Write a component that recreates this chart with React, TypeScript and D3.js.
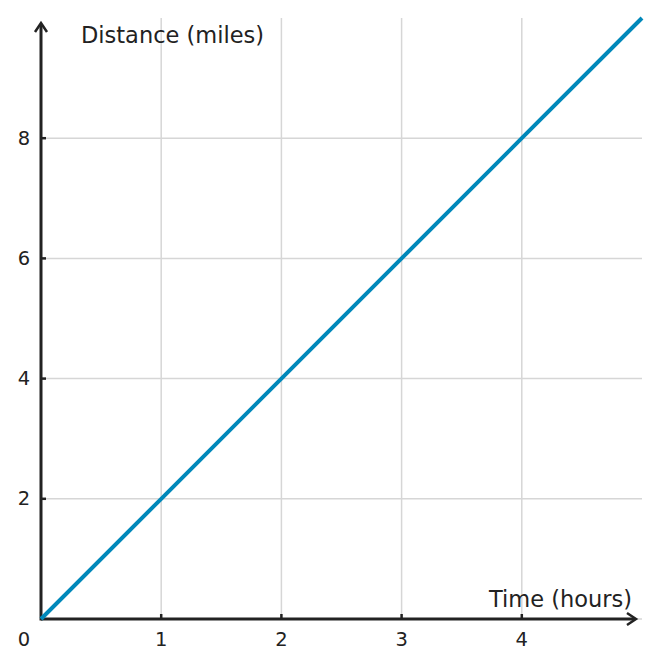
import React from 'react';
import * as d3 from 'd3';

const hours = [0, 1, 2, 3, 4, 5];
const miles = [0, 2, 4, 6, 8, 10];
const xTicks = [1, 2, 3, 4];
const yTicks = [2, 4, 6, 8];
const xGrid = [1, 2, 3, 4];
const yGrid = [0, 2, 4, 6, 8];

const W = 661;
const H = 668;
const font = 'DejaVu Sans, sans-serif';
const ink = '#222222';

export default function App() {
  const x = d3.scaleLinear().domain([0, 5]).range([41, 642]);
  const y = d3.scaleLinear().domain([0, 10]).range([619, 18]);

  const line = d3.line<number>()
      .x((d, i) => x(hours[i]))
      .y((d) => y(d));

  const x0 = x(0);
  const y0 = y(0);
  const arrowX = 636;
  const arrowY = 23;

  return (
    <svg width={W} height={H}
      style={{position: 'absolute', left: 0, top: 0, background: '#fff'}}>
      {/* grid */}
      {xGrid.map((t) => (
        <line key={'gx' + t} x1={x(t)} x2={x(t)} y1={y(10)} y2={y0}
          stroke="#d6d6d6" strokeWidth={1.5} />
      ))}
      {yGrid.map((t) => (
        <line key={'gy' + t} x1={x0} x2={x(5)} y1={y(t)} y2={y(t)}
          stroke="#d6d6d6" strokeWidth={1.5} />
      ))}

      {/* axes */}
      <line x1={x0} x2={arrowX - 1} y1={y0} y2={y0} stroke={ink} strokeWidth={3} />
      <path d={`M${arrowX - 9},${y0 - 6} L${arrowX},${y0} L${arrowX - 9},${y0 + 6}`}
        fill="none" stroke={ink} strokeWidth={2.5} />
      <line x1={x0} x2={x0} y1={y0 + 1.5} y2={arrowY + 1} stroke={ink} strokeWidth={3} />
      <path d={`M${x0 - 6},${arrowY + 9} L${x0},${arrowY} L${x0 + 6},${arrowY + 9}`}
        fill="none" stroke={ink} strokeWidth={2.5} />

      {/* ticks */}
      {xTicks.map((t) => (
        <g key={'tx' + t}>
          <line x1={x(t)} x2={x(t)} y1={y0} y2={y0 - 5} stroke={ink} strokeWidth={2.5} />
          <text x={x(t)} y={y0 + 27} textAnchor="middle" fontFamily={font}
            fontSize={19.5} fill={ink}>{t}</text>
        </g>
      ))}
      {yTicks.map((t) => (
        <g key={'ty' + t}>
          <line x1={x0} x2={x0 + 5} y1={y(t)} y2={y(t)} stroke={ink} strokeWidth={2.5} />
          <text x={24} y={y(t) + 6.5} textAnchor="middle" fontFamily={font}
            fontSize={19.5} fill={ink}>{t}</text>
        </g>
      ))}
      <text x={24} y={y0 + 27} textAnchor="middle" fontFamily={font}
        fontSize={19.5} fill={ink}>0</text>

      {/* data */}
      <path d={line(miles) || ''} fill="none" stroke="#0088ba" strokeWidth={4} />

      {/* axis labels */}
      <text x={81} y={43} fontFamily={font} fontSize={22.5} fill={ink}>Distance (miles)</text>
      <text x={632} y={607} textAnchor="end" fontFamily={font} fontSize={22.5}
        fill={ink}>Time (hours)</text>
    </svg>
  );
}
